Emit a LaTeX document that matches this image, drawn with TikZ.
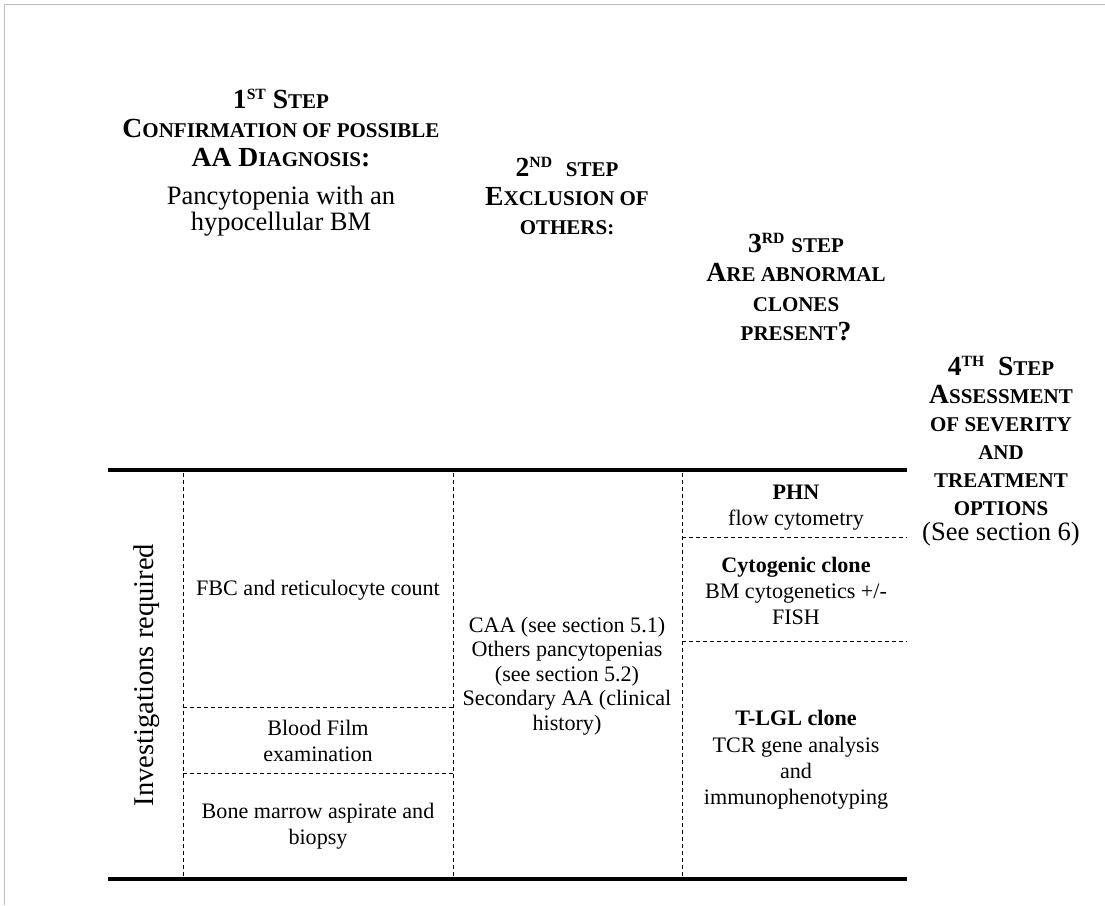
\documentclass[tikz,border=0pt]{standalone}
\usepackage{fontspec}
\setmainfont{Liberation Serif}
\newcommand{\lowcap}[1]{{\fontsize{11.4}{11.4}\selectfont #1}}
\newcommand{\supcap}[1]{\raisebox{5pt}{\fontsize{8.5}{8.5}\selectfont #1}}
\begin{document}
\begin{tikzpicture}[x=0.543pt, y=-0.543pt,
  head/.style={align=center, font=\bfseries\fontsize{15}{15.9}\selectfont},
  note/.style={align=center, font=\fontsize{14.4}{14.1}\selectfont},
  cell/.style={align=center, font=\fontsize{12}{14}\selectfont},
  rule/.style={line width=1.9pt},
  sep/.style={line width=0.5pt, dash pattern=on 2.2pt off 1.6pt}]
\useasboundingbox (0,0) rectangle (1105,905);
\draw[gray!50, line width=1pt] (4.5,905) -- (4.5,4.5) -- (1105,4.5);
% step headings
\node[head] (step1) at (281,128) {1\supcap{ST} S\lowcap{TEP}\\C\lowcap{ONFIRMATION OF POSSIBLE}\\AA D\lowcap{IAGNOSIS}:};
\node[note] (step1txt) at (281,211) {Pancytopenia with an\\hypocellular BM};
\node[head] (step2) at (567,196) {2\supcap{ND}\ \ \lowcap{STEP}\\E\lowcap{XCLUSION OF}\\\lowcap{OTHERS:}};
\node[head] (step3) at (796,287) {3\supcap{RD} \lowcap{STEP}\\A\lowcap{RE ABNORMAL}\\\lowcap{CLONES}\\\lowcap{PRESENT}?};
\node[head, font=\bfseries\fontsize{15}{15.2}\selectfont] (step4) at (1001,451) {4\supcap{TH}\ \ S\lowcap{TEP}\\A\lowcap{SSESSMENT}\\\lowcap{OF SEVERITY}\\\lowcap{AND}\\\lowcap{TREATMENT}\\\lowcap{OPTIONS}\\[-1.6pt]{\mdseries\fontsize{14.4}{14.1}\selectfont (See section 6)}};
% table
\draw[rule] (108,470) -- (907,470);
\draw[rule] (108,879) -- (907,879);
\foreach \x in {183,453,682} \draw[sep] (\x,473) -- (\x,876);
\foreach \y in {707,773} \draw[sep] (183,\y) -- (453,\y);
\foreach \y in {537,641} \draw[sep] (682,\y) -- (906,\y);
\node[cell, font=\fontsize{15.5}{16}\selectfont, rotate=90] (invest) at (147,675) {Investigations required};
\node[cell] (fbc) at (318,590) {FBC and reticulocyte count};
\node[cell] (film) at (318,741) {Blood Film\\examination};
\node[cell] (marrow) at (318,826) {Bone marrow aspirate and\\biopsy};
\node[cell, font=\fontsize{12}{13.3}\selectfont] (excl) at (567,676) {CAA (see section 5.1)\\Others pancytopenias\\(see section 5.2)\\Secondary AA (clinical\\history)};
\node[cell] (phn) at (796,508) {\textbf{PHN}\\flow cytometry};
\node[cell] (cyto) at (796,591) {\textbf{Cytogenic clone}\\BM cytogenetics +/-\\FISH};
\node[cell, font=\fontsize{12}{14.3}\selectfont] (tlgl) at (796,760) {\textbf{T-LGL clone}\\TCR gene analysis\\and\\immunophenotyping};
\end{tikzpicture}
\end{document}
